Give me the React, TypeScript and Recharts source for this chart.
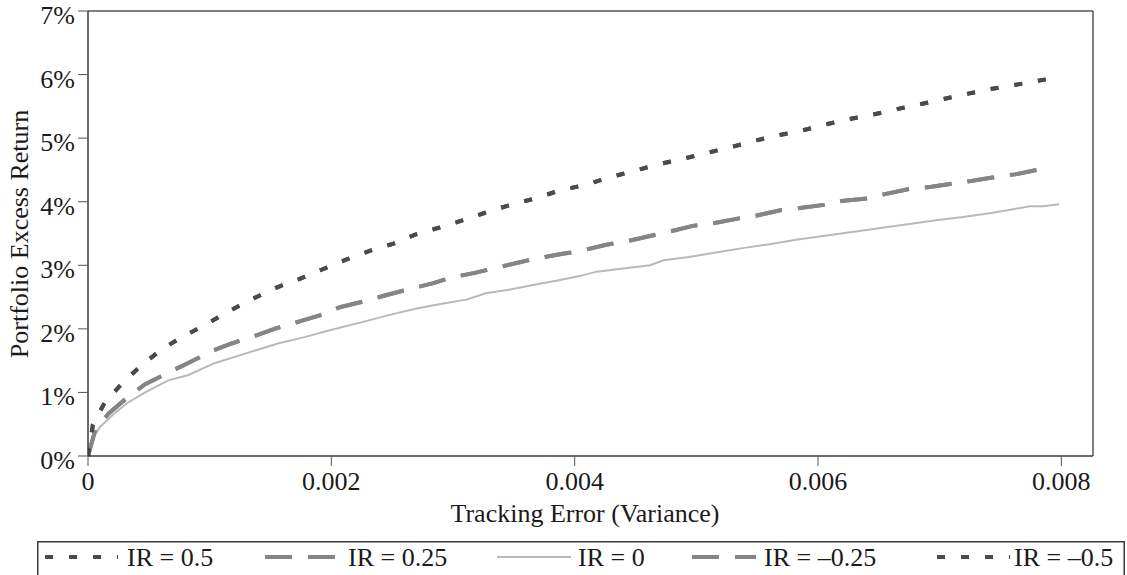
import React from 'react';
import {
  Legend,
  Line,
  LineChart,
  ReferenceLine,
  XAxis,
  YAxis,
} from 'recharts';

// values (x = tracking error variance, y = excess return in %)
const ir05X = [
  0, 0.00004, 0.00014, 0.00028, 0.00043, 0.0006, 0.00077, 0.00097, 0.00115, 0.00134, 0.00155,
  0.00173, 0.00192, 0.00211, 0.00232, 0.00251, 0.0027, 0.0029, 0.0031, 0.0033, 0.00349, 0.00369,
  0.00388, 0.00408, 0.00428, 0.00448, 0.00467, 0.00488, 0.00507, 0.00527, 0.00546, 0.00566,
  0.00585, 0.00603, 0.00623, 0.00643, 0.00663, 0.00683, 0.00702, 0.00721, 0.00741, 0.0076,
  0.0078, 0.00798,
];
const ir05Y = [
  0, 0.49, 0.85, 1.14, 1.41, 1.67, 1.87, 2.07, 2.27, 2.46, 2.65, 2.78, 2.93, 3.08, 3.23, 3.34,
  3.49, 3.6, 3.72, 3.85, 3.96, 4.06, 4.18, 4.26, 4.38, 4.48, 4.58, 4.67, 4.76, 4.85, 4.95, 5.04,
  5.11, 5.2, 5.29, 5.36, 5.45, 5.53, 5.61, 5.69, 5.77, 5.83, 5.9, 5.96,
];

const ir025X = [
  0, 0.00006, 0.00017, 0.00033, 0.00047, 0.00066, 0.00082, 0.00103, 0.00118, 0.00139, 0.00155,
  0.00176, 0.00192, 0.00207, 0.00226, 0.00247, 0.00263, 0.00284, 0.00299, 0.00318, 0.00333,
  0.00353, 0.00369, 0.0039, 0.00406, 0.00425, 0.00441, 0.00462, 0.00478, 0.00497, 0.00514,
  0.00533, 0.00549, 0.0057, 0.00585, 0.00605, 0.00619, 0.00641, 0.00655, 0.00677, 0.00692,
  0.00712, 0.00727, 0.00749, 0.00762, 0.00785,
];
const ir025Y = [
  0, 0.41, 0.67, 0.93, 1.13, 1.31, 1.46, 1.66, 1.77, 1.9, 2.01, 2.13, 2.22, 2.34, 2.43, 2.54,
  2.62, 2.72, 2.81, 2.88, 2.95, 3.04, 3.11, 3.18, 3.23, 3.32, 3.37, 3.46, 3.53, 3.62, 3.66, 3.73,
  3.78, 3.87, 3.9, 3.95, 4.01, 4.05, 4.12, 4.21, 4.23, 4.29, 4.33, 4.4, 4.43, 4.52,
];

const ir0X = [
  0, 0.00003, 0.0001, 0.0002, 0.00032, 0.00047, 0.00066, 0.00082, 0.00104, 0.00129, 0.00156,
  0.00178, 0.00197, 0.00226, 0.00248, 0.0027, 0.00292, 0.00311, 0.00327, 0.00347, 0.00369,
  0.00388, 0.00404, 0.00418, 0.0044, 0.00462, 0.00473, 0.00494, 0.00516, 0.00538, 0.0056,
  0.00582, 0.00604, 0.00631, 0.00653, 0.00675, 0.00697, 0.00719, 0.00741, 0.00757, 0.00774,
  0.00785, 0.00798,
];
const ir0Y = [
  0, 0.25, 0.46, 0.64, 0.83, 1.0, 1.19, 1.27, 1.46, 1.61, 1.77, 1.87, 1.97, 2.11, 2.22, 2.32,
  2.4, 2.46, 2.56, 2.62, 2.7, 2.77, 2.83, 2.9, 2.95, 3.0, 3.08, 3.13, 3.2, 3.27, 3.33, 3.4, 3.46,
  3.53, 3.59, 3.65, 3.71, 3.76, 3.82, 3.87, 3.93, 3.93, 3.96,
];

// the negative IR curves sit exactly on top of the positive ones in the picture
const irNeg025X = ir025X;
const irNeg025Y = ir025Y;
const irNeg05X = ir05X;
const irNeg05Y = ir05Y;

const xTicks = [0, 0.002, 0.004, 0.006, 0.008];
const xTickLabels = ['0', '0.002', '0.004', '0.006', '0.008'];
const yTicks = [0, 1, 2, 3, 4, 5, 6, 7];
const X_MAX = 0.00826;

const toPoints = (xs: number[], ys: number[]) => xs.map((x, i) => ({ x, y: ys[i] }));

const FONT = 'Liberation Serif, Times New Roman, Times, DejaVu Serif, serif';
const TEXT = '#1a1a1a';
const AXIS = '#3a3a3a';
const txt = { fontFamily: FONT, fontSize: 26 };

const series = [
  { name: 'IR = 0.5', data: toPoints(ir05X, ir05Y), color: '#4b4b4b', width: 4, dash: '8 16' },
  { name: 'IR = 0.25', data: toPoints(ir025X, ir025Y), color: '#858585', width: 4, dash: '27 16' },
  { name: 'IR = 0', data: toPoints(ir0X, ir0Y), color: '#b9b9b9', width: 2, dash: undefined },
  { name: 'IR = \u20130.25', data: toPoints(irNeg025X, irNeg025Y), color: '#858585', width: 4, dash: '27 16' },
  { name: 'IR = \u20130.5', data: toPoints(irNeg05X, irNeg05Y), color: '#4b4b4b', width: 4, dash: '8 16' },
];

// legend item placement inside the boxed legend (icon start, icon width, text start)
const legendSlots = [
  { icon: 8, w: 73, text: 90 },
  { icon: 228, w: 72, text: 311 },
  { icon: 460, w: 74, text: 541 },
  { icon: 655, w: 64, text: 727 },
  { icon: 900, w: 73, text: 977 },
];

const YTick = (props: any) => (
  <text x={props.x - 1} y={props.y + 13} textAnchor="end" style={txt} fill={TEXT}>
    {`${props.payload.value}%`}
  </text>
);

const XTick = (props: any) => {
  const idx = xTicks.indexOf(props.payload.value);
  return (
    <text x={props.x} y={props.y + 22} textAnchor="middle" style={txt} fill={TEXT}>
      {idx >= 0 ? xTickLabels[idx] : props.payload.value}
    </text>
  );
};

const BoxLegend = () => (
  <svg width={1090} height={34} style={{ display: 'block' }}>
    <path d="M0.75,34 L0.75,0.75 L1087.25,0.75 L1087.25,34" fill="none" stroke={AXIS} strokeWidth={1.5} />
    {series.map((s, i) => {
      const slot = legendSlots[i];
      return (
        <g key={s.name}>
          <line
            x1={slot.icon}
            x2={slot.icon + slot.w}
            y1={16}
            y2={16}
            stroke={s.color}
            strokeWidth={s.width}
            strokeDasharray={s.dash}
          />
          <text x={slot.text} y={25} style={txt} fill={TEXT}>
            {s.name}
          </text>
        </g>
      );
    })}
  </svg>
);

export default function App() {
  return (
    <div style={{ position: 'absolute', left: 0, top: 0, width: 1127, height: 575, background: '#fff', fontFamily: FONT }}>
      <LineChart width={1127} height={575} margin={{ top: 11, right: 34, left: 0, bottom: 0 }}>
        <XAxis
          type="number"
          dataKey="x"
          domain={[0, X_MAX]}
          ticks={xTicks}
          tick={<XTick />}
          tickSize={10}
          height={119}
          axisLine={{ stroke: AXIS, strokeWidth: 1.5 }}
          tickLine={{ stroke: '#555' }}
          allowDataOverflow
          label={() => (
            <text x={585} y={522} textAnchor="middle" style={txt} fill={TEXT}>
              Tracking Error (Variance)
            </text>
          )}
        />
        <YAxis
          type="number"
          dataKey="y"
          domain={[0, 7]}
          ticks={yTicks}
          tick={<YTick />}
          tickSize={10}
          width={88}
          axisLine={{ stroke: AXIS, strokeWidth: 1.5 }}
          tickLine={{ stroke: '#555' }}
          label={() => (
            <text
              x={28}
              y={234}
              transform="rotate(-90, 28, 234)"
              textAnchor="middle"
              style={txt}
              fill={TEXT}
            >
              Portfolio Excess Return
            </text>
          )}
        />
        <ReferenceLine y={7} stroke="#555" strokeWidth={1.5} />
        <ReferenceLine x={X_MAX} stroke="#555" strokeWidth={1.5} />
        {[2, 1, 0, 3, 4].map((i) => {
          const s = series[i];
          return (
            <Line
              key={s.name}
              data={s.data}
              dataKey="y"
              name={s.name}
              type="linear"
              stroke={s.color}
              strokeWidth={s.width}
              strokeDasharray={s.dash}
              dot={false}
              activeDot={false}
              isAnimationActive={false}
            />
          );
        })}
        <Legend
          layout="horizontal"
          verticalAlign="middle"
          align="center"
          content={<BoxLegend />}
          wrapperStyle={{ left: 37, top: 541, width: 1090, height: 34 }}
        />
      </LineChart>
    </div>
  );
}
